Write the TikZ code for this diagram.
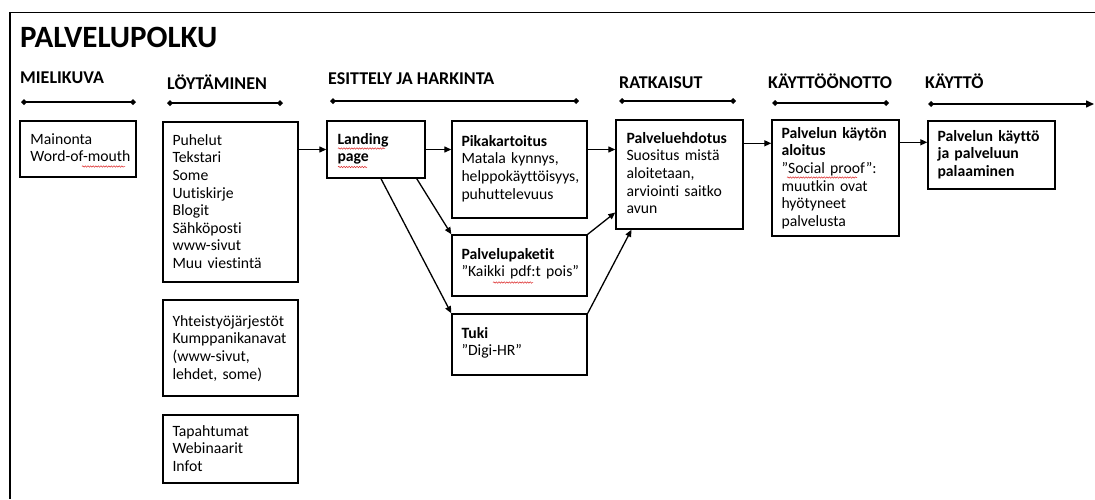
\documentclass[tikz,border=0pt]{standalone}
\usepackage{fontspec}
\setmainfont{Carlito}[Ligatures={NoCommon}]
\usetikzlibrary{arrows.meta,calc,decorations.pathmorphing}
\definecolor{spell}{RGB}{220,40,40}
\begin{document}
\begin{tikzpicture}[x=1pt,y=-1pt,
  box/.style={draw,line width=1.4pt,inner sep=0pt},
  tx/.style={anchor=base west,inner sep=0pt,text width=160pt,align=left,
    font=\fontsize{15.7}{17.6}\selectfont},
  hd/.style={anchor=base west,inner sep=0pt,font=\fontsize{18}{21}\selectfont\bfseries},
  tl/.style={line width=1.5pt,{Turned Square[length=6pt,width=6pt]}-{Turned Square[length=6pt,width=6pt]}},
  tlarr/.style={line width=1.5pt,{Turned Square[length=6pt,width=6pt]}-{Triangle[length=8pt,width=7pt]}},
  arr/.style={line width=1.3pt,-{Triangle[length=7pt,width=6pt]}},
  squig/.style={spell,line width=0.5pt,decorate,decoration={snake,amplitude=0.7pt,segment length=2.6pt}}
]
\useasboundingbox (0,0) rectangle (1095,499);

% outer frame, open to the right and bottom
\draw[line width=1.6pt] (1095,12.5) -- (10,12.5) -- (10,499);

% title
\node[anchor=base west,inner sep=0pt,font=\fontsize{31}{35}\selectfont\bfseries] (title) at (20,47) {PALVELUPOLKU};

% phase headings
\node[hd] (h1) at (20,83) {MIELIKUVA};
\node[hd] (h2) at (167,89) {LÖYTÄMINEN};
\node[hd] (h3) at (328,84) {ESITTELY JA HARKINTA};
\node[hd] (h4) at (619,88) {RATKAISUT};
\node[hd] (h5) at (768,88) {KÄYTTÖÖNOTTO};
\node[hd] (h6) at (925,88) {KÄYTTÖ};

% phase timelines
\coordinate (t1a) at (21,102);  \coordinate (t1b) at (136,102);
\coordinate (t2a) at (167,103); \coordinate (t2b) at (283,103);
\coordinate (t3a) at (330,101); \coordinate (t3b) at (579,101);
\coordinate (t4a) at (619,101); \coordinate (t4b) at (736,101);
\coordinate (t5a) at (772,103); \coordinate (t5b) at (889,103);
\coordinate (t6a) at (928,104); \coordinate (t6b) at (1094,104);
\draw[tl] (t1a) -- (t1b);
\draw[tl] (t2a) -- (t2b);
\draw[tl] (t3a) -- (t3b);
\draw[tl] (t4a) -- (t4b);
\draw[tl] (t5a) -- (t5b);
\draw[tlarr] (t6a) -- (t6b);

% boxes
\node[box,minimum width=116,minimum height=56] (mai) at (78,149) {};
\node[box,minimum width=135,minimum height=160] (puh) at (230.5,202) {};
\node[box,minimum width=135,minimum height=96] (yht) at (230.5,348) {};
\node[box,minimum width=135,minimum height=68] (tap) at (230.5,449) {};
\node[box,minimum width=98,minimum height=57] (land) at (376,149.5) {};
\node[box,minimum width=135,minimum height=97] (pika) at (519.5,169.5) {};
\node[box,minimum width=135,minimum height=61] (pak) at (519.5,265.5) {};
\node[box,minimum width=135,minimum height=61] (tuki) at (519.5,344.5) {};
\node[box,minimum width=127,minimum height=109] (ehd) at (679.5,174.5) {};
\node[box,minimum width=127,minimum height=116] (alo) at (835.5,178) {};
\node[box,minimum width=127,minimum height=68] (kay) at (991.5,155) {};

% box texts
\node[tx] (maiT) at ($(mai.north west)+(11,24)$) {Mainonta\\Word-of-mouth};
\node[tx] (puhT) at ($(puh.north west)+(10,24)$) {Puhelut\\Tekstari\\Some\\Uutiskirje\\Blogit\\Sähköposti\\www-sivut\\Muu viestintä};
\node[tx] (yhtT) at ($(yht.north west)+(10,27)$) {Yhteistyöjärjestöt\\Kumppanikanavat\\(www-sivut,\\lehdet, some)};
\node[tx] (tapT) at ($(tap.north west)+(10,22)$) {Tapahtumat\\Webinaarit\\Infot};
\node[tx] (landT) at ($(land.north west)+(11,24)$) {\textbf{Landing}\\\textbf{page}};
\node[tx] (pikaT) at ($(pika.north west)+(10,26)$) {\textbf{Pikakartoitus}\\Matala kynnys,\\helppokäyttöisyys,\\puhuttelevuus};
\node[tx] (pakT) at ($(pak.north west)+(10,25)$) {\textbf{Palvelupaketit}\\”Kaikki pdf:t pois”};
\node[tx] (tukiT) at ($(tuki.north west)+(10,25)$) {\textbf{Tuki}\\”Digi-HR”};
\node[tx] (ehdT) at ($(ehd.north west)+(11,24)$) {\textbf{Palveluehdotus}\\Suositus mistä\\aloitetaan,\\arviointi saitko\\avun};
\node[tx] (aloT) at ($(alo.north west)+(10,19)$) {\textbf{Palvelun käytön}\\\textbf{aloitus}\\”Social proof”:\\muutkin ovat\\hyötyneet\\palvelusta};
\node[tx] (kayT) at ($(kay.north west)+(10,21)$) {\textbf{Palvelun käyttö}\\\textbf{ja palveluun}\\\textbf{palaaminen}};

% spell-check underlines
\draw[squig] (82,166.5) -- (125,166.5);
\draw[squig] (338,148.5) -- (385,148.5);
\draw[squig] (338,167) -- (367,167);
\draw[squig] (493,282.5) -- (533,282.5);
\draw[squig] (787,177.5) -- (857,177.5);

% flow connectors
\draw[arr] (puh.east |- land.west) -- (land.west);
\draw[arr] (land.east) -- (land.east -| pika.west);
\draw[arr] ($(land.south west)!0.91!(land.south east)$) -- (pak.north west);
\draw[arr] ($(land.south west)!0.55!(land.south east)$) -- (tuki.north west);
\draw[arr] (pika.east |- land.east) -- (ehd.west |- land.east);
\draw[arr] (pak.north east) -- ($(ehd.north west)!0.844!(ehd.south west)$);
\draw[arr] (tuki.north east) -- ($(ehd.south west)!0.126!(ehd.south east)$);
\coordinate (r1) at ($(ehd.north east)+(0,24)$);
\draw[arr] (r1) -- (r1 -| alo.west);
\coordinate (r2) at ($(alo.north east)+(0,23)$);
\draw[arr] (r2) -- (r2 -| kay.west);
\end{tikzpicture}
\end{document}
